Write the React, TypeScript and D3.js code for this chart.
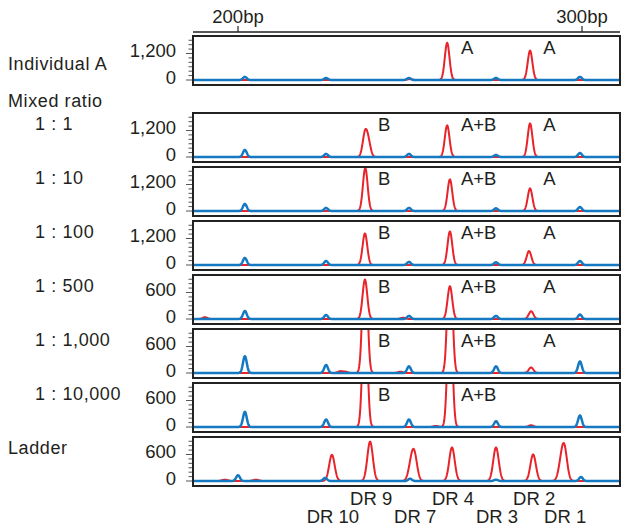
import React from 'react';
import * as d3 from 'd3';

// layout constants
const width = 623;
const height = 530;
const frameLeft = 193;
const frameRight = 620;
const panelH = 49;
const zeroOffset = 44;
const font = '"Liberation Sans", Arial, sans-serif';
const red = '#e8232a';
const blue = '#1479c0';

// data
const panelLabels = ['Individual A', '1 : 1', '1 : 10', '1 : 100', '1 : 500', '1 : 1,000', '1 : 10,000', 'Ladder'];
const panelTops = [36, 113, 167, 221, 275, 329, 383, 437];
const axisTick = [1200, 1200, 1200, 1200, 600, 600, 600, 600];
const bpTicks = [200, 300];

const sizeStdBp = [202.0, 225.6, 249.7, 275.0, 299.4];
const ladderStdBp = [200.0, 225.3, 250.0, 275.0, 299.7];
const blueIndividualA = [140, 90, 90, 90, 140];
const blueRatio1 = [320, 140, 140, 90, 180];
const blueRatio10 = [320, 140, 140, 120, 180];
const blueRatio100 = [320, 180, 140, 120, 180];
const blueRatio500 = [180, 90, 70, 70, 100];
const blueRatio1000 = [380, 180, 150, 150, 260];
const blueRatio10000 = [340, 170, 170, 130, 260];
const blueLadder = [130, 70, 50, 30, 90];

// red peaks as [bp, height]
const redIndividualA: [number, number][] = [[260.8, 1680], [284.9, 1330], [249.9, 40]];
const redRatio1: [number, number][] = [[236.9, 1000], [237.9, 620], [260.8, 1430], [284.9, 1520]];
const redRatio10: [number, number][] = [[237.0, 1950], [261.6, 1430], [284.9, 1020]];
const redRatio100: [number, number][] = [[236.9, 1430], [261.6, 1520], [284.6, 630]];
const redRatio500: [number, number][] = [[190.4, 40], [236.9, 890], [261.6, 740], [285.2, 175], [248.0, 30]];
const redRatio1000: [number, number][] = [[229.7, 40], [231.2, 30], [236.9, 3000], [261.6, 3000], [285.2, 125], [247.2, 30]];
const redRatio10000: [number, number][] = [[236.9, 3000], [261.6, 3000], [285.2, 40], [257.5, 25]];
const redLadder: [number, number][] = [[196.2, 30], [205.2, 30], [227.3, 590], [238.4, 890], [250.3, 330], [251.3, 540], [262.2, 760], [275.0, 760], [285.8, 600], [293.9, 330], [294.9, 680]];

const blueHeights = [blueIndividualA, blueRatio1, blueRatio10, blueRatio100, blueRatio500, blueRatio1000, blueRatio10000, blueLadder];
const redPeaks = [redIndividualA, redRatio1, redRatio10, redRatio100, redRatio500, redRatio1000, redRatio10000, redLadder];

const alleleLabelBp = [240.7, 264.8, 288.7];
const panelAlleles = [[null, 'A', 'A'], ['B', 'A+B', 'A'], ['B', 'A+B', 'A'], ['B', 'A+B', 'A'], ['B', 'A+B', 'A'], ['B', 'A+B', 'A'], ['B', 'A+B', null], [null, null, null]];

const ladderNames = ['DR 10', 'DR 9', 'DR 7', 'DR 4', 'DR 3', 'DR 2', 'DR 1'];
const ladderBp = [227.3, 238.4, 251.2, 262.2, 275.0, 285.8, 294.8];

const xScale = d3.scaleLinear().domain([200, 300]).range([238, 582]);

const App = () => {
  const bpStart = xScale.invert(frameLeft + 1);
  const bpEnd = xScale.invert(frameRight - 1);
  const samples = d3.range(bpStart, bpEnd, 0.08);

  const trace = (peaks: [number, number][], sigma: number) =>
    samples.map(bp => [bp, d3.sum(peaks, p => p[1] * Math.exp(-((bp - p[0]) ** 2) / (2 * sigma * sigma)))] as [number, number]);

  return (
    <svg width={width} height={height} style={{ position: 'absolute', left: 0, top: 0, fontFamily: font }}>
      <defs>
        {panelTops.map((t, i) => (
          <clipPath id={`clip${i}`} key={i}>
            <rect x={frameLeft} y={t} width={frameRight - frameLeft} height={panelH} />
          </clipPath>
        ))}
      </defs>

      {/* top bp axis */}
      <line x1={frameLeft} x2={frameRight} y1={32} y2={32} stroke="#222" strokeWidth={1.3} />
      {bpTicks.map(t => (
        <g key={t}>
          <line x1={xScale(t)} x2={xScale(t)} y1={32} y2={26} stroke="#222" strokeWidth={1.2} />
          <text x={xScale(t)} y={23} textAnchor="middle" fontSize={18.5} fill="#231f20">{t}bp</text>
        </g>
      ))}

      <text x={8} y={107} fontSize={18} fill="#231f20" letterSpacing={0.6}>Mixed ratio</text>

      {panelTops.map((top, i) => {
        const zeroY = top + zeroOffset;
        const yScale = d3.scaleLinear().domain([0, axisTick[i]]).range([zeroY, zeroY - 26.5]);
        const isLadder = i === 7;
        const std = isLadder ? ladderStdBp : sizeStdBp;
        const bluePeaks = std.map((bp, j) => [bp, blueHeights[i][j]] as [number, number]);
        const line = d3.line<[number, number]>().x(d => xScale(d[0])).y(d => yScale(d[1]));
        const step = axisTick[i] / 6;
        const minor = d3.range(0, yScale.invert(top) + 1, step);
        return (
          <g key={i}>
            <text x={i === 0 || isLadder ? 8 : 35} y={top + (i === 0 ? 34 : 17)} fontSize={18} fill="#231f20" letterSpacing={0.6}>
              {panelLabels[i]}
            </text>
            {minor.map((v, k) => (
              <line key={k} x1={frameLeft - (k % 6 === 0 ? 7 : 4.5)} x2={frameLeft} y1={yScale(v)} y2={yScale(v)} stroke="#555" strokeWidth={1} />
            ))}
            {[0, axisTick[i]].map(v => (
              <text key={v} x={176} y={yScale(v) - 2} dy="0.32em" textAnchor="end" fontSize={18.5} fill="#231f20">
                {d3.format(',')(v)}
              </text>
            ))}
            <g clipPath={`url(#clip${i})`}>
              <path d={line(trace(redPeaks[i], isLadder ? 0.8 : 0.68)) || ''} fill="none" stroke={red} strokeWidth={2} />
              <path d={line(trace(bluePeaks, 0.55)) || ''} fill="none" stroke={blue} strokeWidth={2.5} />
            </g>
            <rect x={frameLeft} y={top} width={frameRight - frameLeft} height={panelH} fill="none" stroke="#222" strokeWidth={2} />
            {panelAlleles[i].map((a, k) => a && (
              <text key={k} x={xScale(alleleLabelBp[k])} y={top + 18} fontSize={18.5} fill="#231f20">{a}</text>
            ))}
          </g>
        );
      })}

      {ladderNames.map((n, i) => (
        <text key={n} x={xScale(ladderBp[i]) + 1} y={i % 2 === 1 ? 505 : 523} textAnchor="middle" fontSize={18.5} fill="#231f20">{n}</text>
      ))}
    </svg>
  );
};

export default App;
